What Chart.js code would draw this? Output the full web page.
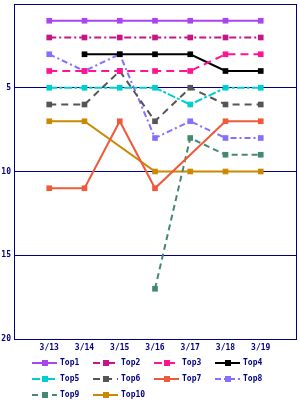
<!DOCTYPE html>
<html>
<head>
<meta charset="utf-8">
<script src="https://cdn.jsdelivr.net/npm/chart.js@4"></script>
<style>
html,body{margin:0;padding:0;background:#fff;}
#wrap{width:300px;height:400px;}
</style>
</head>
<body>
<div id="wrap"><canvas id="c" width="300" height="400"></canvas></div>
<script>
const categories = ['3/13','3/14','3/15','3/16','3/17','3/18','3/19'];
const yTicks = [5,10,15,20];
const seriesNames = ['Top1','Top2','Top3','Top4','Top5','Top6','Top7','Top8','Top9','Top10'];
const top1  = [1,1,1,1,1,1,1];
const top2  = [2,2,2,2,2,2,2];
const top3  = [4,4,4,4,4,3,3];
const top4  = [null,3,3,3,3,4,4];
const top5  = [5,5,5,5,6,5,5];
const top6  = [6,6,4,7,5,6,6];
const top7  = [11,11,7,11,null,7,7];
const top8  = [3,4,3,8,7,8,8];
const top9  = [null,null,null,17,8,9,9];
const top10 = [7,7,null,10,10,10,10];

const seriesValues = [top1,top2,top3,top4,top5,top6,top7,top8,top9,top10];
const colors = ['#aa44ee','#c71585','#ff1493','#000000','#00cdd0','#555555','#ee5a3a','#8470ff','#448870','#cc8800'];
const dashes = [[],[7,3,2,3],[8,5],[],[8,2,3,2],[7,5],[],[6,3,2,3],[6,4],[]];

const NAVY = '#000080';
const FONT = {family:'"DejaVu Sans Mono", monospace', size:8, weight:'bold'};
const labels = [''].concat(categories, ['']);

const datasets = seriesNames.map((n,i)=>({
  label:n,
  data:[null].concat(seriesValues[i],[null]),
  borderColor:colors[i],
  backgroundColor:colors[i],
  borderWidth:2,
  borderDash:dashes[i],
  pointStyle:'rect',
  pointRadius:4,
  pointBorderWidth:0,
  pointHoverRadius:4,
  tension:0,
  spanGaps:true,
  fill:false
}));

const legendPlugin = {
  id:'customLegend',
  afterDraw(chart){
    const ctx = chart.ctx;
    ctx.save();
    const x0 = 32, colW = 61, rows=[363,379,395];
    chart.data.datasets.forEach((ds,i)=>{
      const col = i%4, row = Math.floor(i/4);
      const x = x0 + col*colW, y = rows[row];
      ctx.strokeStyle = ds.borderColor;
      ctx.lineWidth = 2;
      ctx.setLineDash(ds.borderDash);
      ctx.beginPath();
      ctx.moveTo(x, y);
      ctx.lineTo(x+25, y);
      ctx.stroke();
      ctx.setLineDash([]);
      ctx.fillStyle = ds.borderColor;
      ctx.fillRect(x+10, y-3, 6, 6);
      ctx.fillStyle = NAVY;
      ctx.font = 'bold 8px "DejaVu Sans Mono", monospace';
      ctx.textBaseline = 'middle';
      ctx.textAlign = 'left';
      ctx.fillText(ds.label, x+28, y);
    });
    ctx.restore();
  }
};

function noPad(s){ s.paddingTop=0; s.paddingBottom=0; s.paddingLeft=0; s.paddingRight=0; }

new Chart(document.getElementById('c'), {
  type:'line',
  data:{labels, datasets},
  options:{
    responsive:false,
    animation:false,
    layout:{padding:{top:4,right:1,left:0,bottom:0}},
    plugins:{legend:{display:false},tooltip:{enabled:false}},
    scales:{
      x:{
        offset:false,
        grid:{drawTicks:false, color:(c)=> (c.index===labels.length-1 ? NAVY : 'rgba(0,0,0,0)'), lineWidth:1},
        border:{color:NAVY, width:1},
        ticks:{color:NAVY, font:FONT, padding:4, autoSkip:false, maxRotation:0},
        afterFit(s){ s.height = 61; noPad(s); }
      },
      y:{
        reverse:true, min:0, max:20,
        grid:{drawTicks:false, color:NAVY, lineWidth:1},
        border:{color:NAVY, width:1},
        ticks:{color:NAVY, font:FONT, padding:3, stepSize:5,
          callback:(v)=> yTicks.includes(v) ? String(v) : ''},
        afterFit(s){ s.width = 14; noPad(s); }
      }
    }
  },
  plugins:[legendPlugin]
});
</script>
</body>
</html>
